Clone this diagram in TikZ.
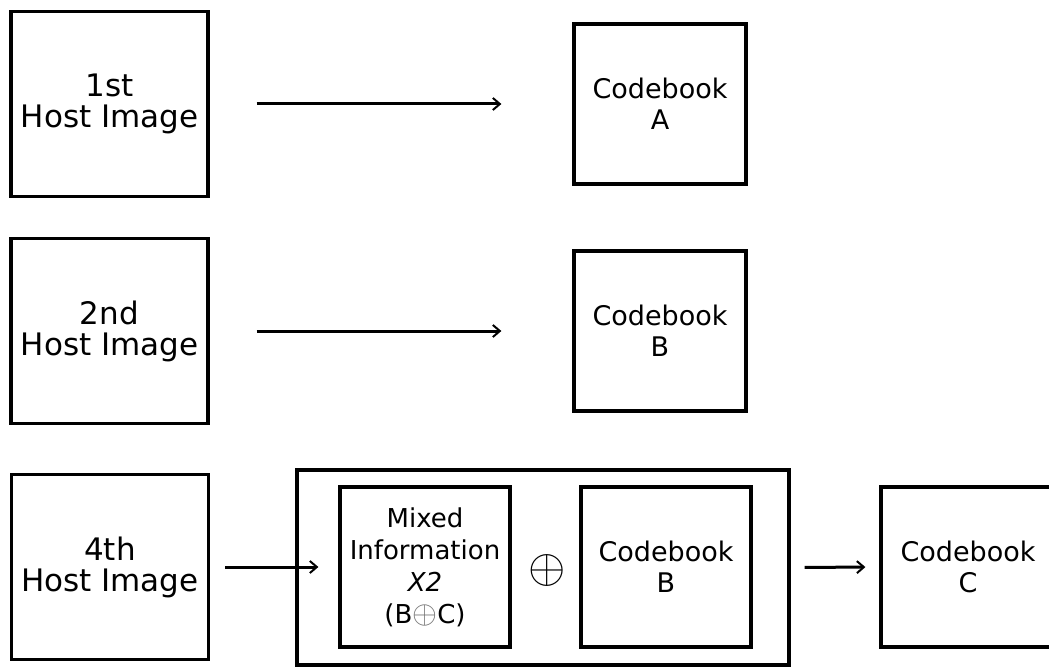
\documentclass[tikz,border=0pt]{standalone}
\usepackage{fontspec}
\setmainfont{DejaVu Sans}
\usepackage{tikz}
\usetikzlibrary{positioning, arrows.meta}
\newcommand{\xorsign}[1]{\scalebox{#1}{\normalsize$\oplus$}}

\begin{document}
\begin{tikzpicture}[x=1pt, y=-1pt,
    box/.style={draw, line width=3.2pt, inner sep=0pt, align=center,
                font=\fontsize{27}{31}\selectfont},
    hostbox/.style={box, minimum width=197pt, minimum height=185pt,
                font=\fontsize{31}{31}\selectfont},
    cbbox/.style={box, minimum width=172pt, minimum height=160pt},
    arr/.style={line width=3pt, -{Straight Barb[length=7pt, width=12pt, line width=2pt]}}]
    \useasboundingbox (0,0) rectangle (1049,668);
                \node[hostbox] (host1) at (109.5,104) {1st\\Host Image};
                \node[hostbox] (host2) at (109.5,331) {2nd\\Host Image};
                \node[hostbox] (host4) at (110,567) {4th\\Host Image};
                \node[cbbox] (cbA) at (660,104) {Codebook\\A};
                \node[cbbox] (cbB) at (660,331) {Codebook\\B};
                \node[box, minimum width=492pt, minimum height=195pt] (mixer) at (543,567.5) {};
                \node[box, minimum width=170pt, minimum height=160pt, font=\fontsize{26}{32}\selectfont] (mixinfo) at (425,567) {Mixed\\Information\\\textit{X2}\\(B\textcolor{black!55}{\raisebox{0pt}[0pt][0pt]{\xorsign{3.2}}}C)};
                \node[box, minimum width=170pt, minimum height=160pt] (cbBin) at (666,567) {Codebook\\B};
                \node[inner sep=0pt] (xor) at (547,570) {\xorsign{4.8}};
                \node[cbbox, minimum width=174pt] (cbC) at (968,567) {Codebook\\C};
                \draw[arr, shorten <=47pt, shorten >=71pt] (host1) -- (cbA);
                \draw[arr, shorten <=47pt, shorten >=71pt] (host2) -- (cbB);
                \draw[arr, shorten <=15pt, shorten >=20pt] (host4.east) -- (mixinfo.west);
                \draw[arr, shorten <=14pt, shorten >=14pt] (mixer.east) -- (cbC.west);
\end{tikzpicture}
\end{document}
